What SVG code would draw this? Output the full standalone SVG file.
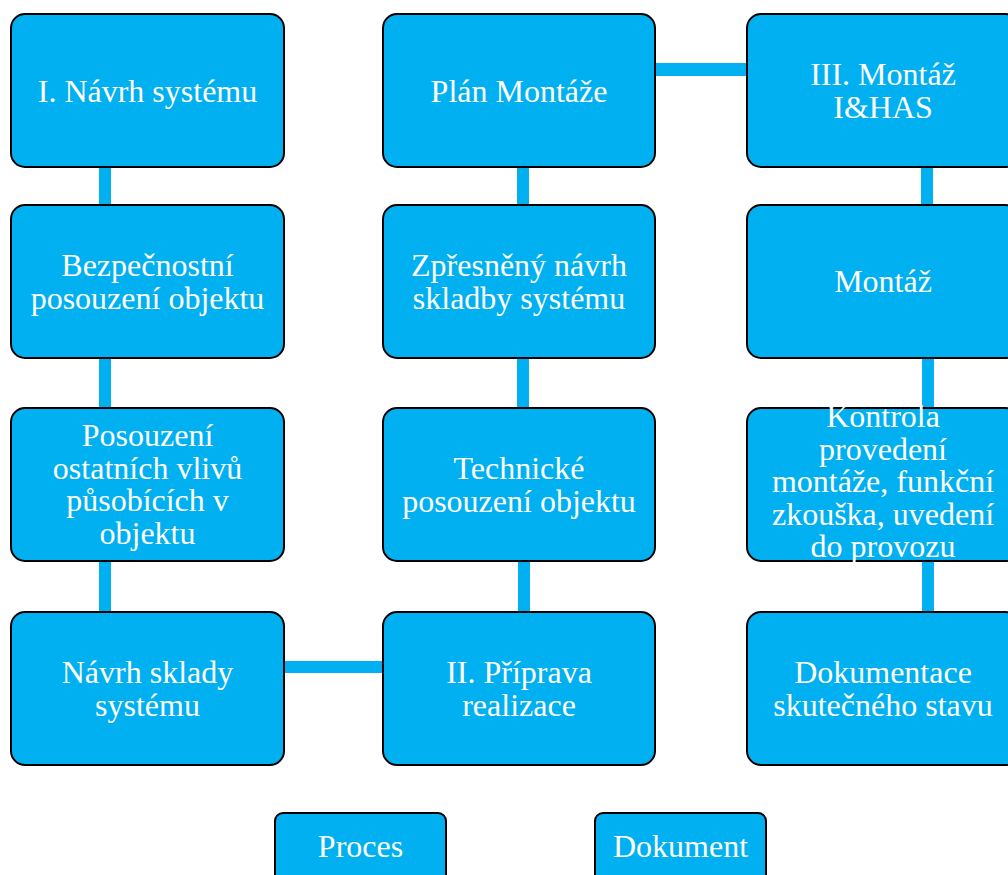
<svg xmlns="http://www.w3.org/2000/svg" width="1008" height="875" viewBox="0 0 1008 875">
<style>
.b{fill:#00B0F0;stroke:#000;stroke-width:2}
.t{fill:#fff;font-family:"Liberation Serif","Times New Roman",serif;font-size:32px;text-anchor:middle}
.c{fill:#00B0F0}
</style>
<rect width="1008" height="875" fill="#fff"/>
<g id="connectors">
<rect class="c" x="99" y="166" width="12" height="40"/>
<rect class="c" x="99" y="357" width="12" height="52"/>
<rect class="c" x="99" y="560" width="12" height="53"/>
<rect class="c" x="283" y="661" width="101" height="12"/>
<rect class="c" x="517" y="166" width="12" height="40"/>
<rect class="c" x="517" y="357" width="12" height="52"/>
<rect class="c" x="518" y="560" width="12" height="53"/>
<rect class="c" x="654" y="63" width="94" height="13"/>
<rect class="c" x="921" y="166" width="12" height="40"/>
<rect class="c" x="922" y="357" width="12" height="52"/>
<rect class="c" x="922" y="560" width="12" height="53"/>
</g>
<g id="n1"><rect class="b" x="11" y="14" width="273" height="153" rx="14"/><text class="t" x="147.5" y="102">I. Návrh systému</text></g>
<g id="n2"><rect class="b" x="11" y="205" width="273" height="153" rx="14"/><text class="t" x="147.5" y="276">Bezpečnostní</text><text class="t" x="147.5" y="308.5">posouzení objektu</text></g>
<g id="n3"><rect class="b" x="11" y="408" width="273" height="153" rx="14"/><text class="t" x="147.5" y="446">Posouzení</text><text class="t" x="147.5" y="478.5">ostatních vlivů</text><text class="t" x="147.5" y="511">působících v</text><text class="t" x="147.5" y="543.5">objektu</text></g>
<g id="n4"><rect class="b" x="11" y="612" width="273" height="153" rx="14"/><text class="t" x="147.5" y="683">Návrh sklady</text><text class="t" x="147.5" y="715.5">systému</text></g>
<g id="n5"><rect class="b" x="383" y="14" width="272" height="153" rx="14"/><text class="t" x="519" y="102">Plán Montáže</text></g>
<g id="n6"><rect class="b" x="383" y="205" width="272" height="153" rx="14"/><text class="t" x="519" y="276">Zpřesněný návrh</text><text class="t" x="519" y="308.5">skladby systému</text></g>
<g id="n7"><rect class="b" x="383" y="408" width="272" height="153" rx="14"/><text class="t" x="519" y="479">Technické</text><text class="t" x="519" y="511.5">posouzení objektu</text></g>
<g id="n8"><rect class="b" x="383" y="612" width="272" height="153" rx="14"/><text class="t" x="519" y="683">II. Příprava</text><text class="t" x="519" y="715.5">realizace</text></g>
<g id="n9"><rect class="b" x="747" y="14" width="272" height="153" rx="14"/><text class="t" x="883" y="85">III. Montáž</text><text class="t" x="883" y="117.5">I&amp;HAS</text></g>
<g id="n10"><rect class="b" x="747" y="205" width="272" height="153" rx="14"/><text class="t" x="883" y="292">Montáž</text></g>
<g id="n11"><rect class="b" x="747" y="408" width="272" height="153" rx="14"/><text class="t" x="883" y="427">Kontrola</text><text class="t" x="883" y="459.5">provedení</text><text class="t" x="883" y="492">montáže, funkční</text><text class="t" x="883" y="524.5">zkouška, uvedení</text><text class="t" x="883" y="557">do provozu</text></g>
<g id="n12"><rect class="b" x="747" y="612" width="272" height="153" rx="14"/><text class="t" x="883" y="683">Dokumentace</text><text class="t" x="883" y="715.5">skutečného stavu</text></g>
<g id="legend-proces"><rect class="b" x="275" y="813" width="171" height="80" rx="8"/><text class="t" x="360.5" y="857">Proces</text></g>
<g id="legend-dokument"><rect class="b" x="595" y="813" width="171" height="80" rx="8"/><text class="t" x="680.5" y="857">Dokument</text></g>
</svg>
